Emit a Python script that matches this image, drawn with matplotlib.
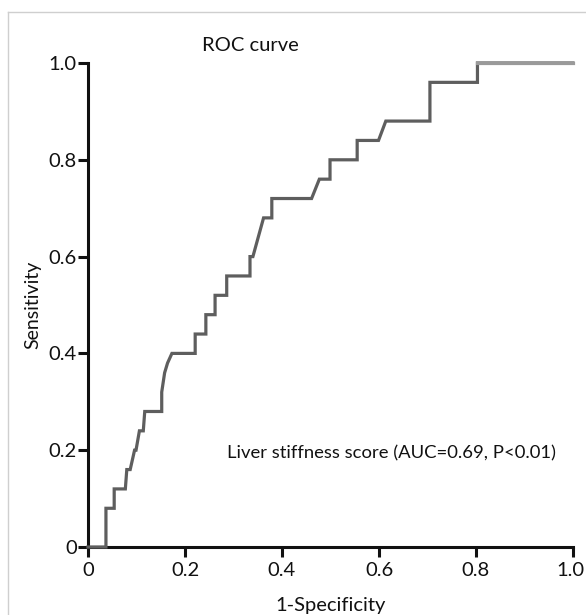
import matplotlib
matplotlib.use("Agg")
import matplotlib.pyplot as plt
from matplotlib.lines import Line2D
from matplotlib.transforms import ScaledTranslation

# ROC curve points (1-Specificity, Sensitivity)
fpr = [0.0, 0.037, 0.037, 0.054, 0.054, 0.077, 0.080, 0.087, 0.096, 0.099,
       0.106, 0.114, 0.117, 0.152, 0.152, 0.158, 0.164, 0.173, 0.221, 0.221,
       0.243, 0.243, 0.262, 0.262, 0.286, 0.286, 0.334, 0.334, 0.340, 0.351,
       0.362, 0.379, 0.379, 0.461, 0.477, 0.499, 0.499, 0.555, 0.555, 0.599,
       0.614, 0.705, 0.705, 0.803, 0.803, 1.0]
tpr = [0.0, 0.0, 0.08, 0.08, 0.12, 0.12, 0.16, 0.16, 0.20, 0.20,
       0.24, 0.24, 0.28, 0.28, 0.32, 0.36, 0.38, 0.40, 0.40, 0.44,
       0.44, 0.48, 0.48, 0.52, 0.52, 0.56, 0.56, 0.60, 0.60, 0.64,
       0.68, 0.68, 0.72, 0.72, 0.76, 0.76, 0.80, 0.80, 0.84, 0.84,
       0.88, 0.88, 0.96, 0.96, 1.0, 1.0]

x_ticks = [0, 0.2, 0.4, 0.6, 0.8, 1.0]
x_tick_labels = ["0", "0.2", "0.4", "0.6", "0.8", "1.0"]
y_ticks = [0, 0.2, 0.4, 0.6, 0.8, 1.0]
y_tick_labels = ["0", "0.2", "0.4", "0.6", "0.8", "1.0"]

title_text = "ROC curve"
annotation_text = "Liver stiffness score (AUC=0.69, P<0.01)"
x_label = "1-Specificity"
y_label = "Sensitivity"

plt.rcParams['font.family'] = ['Lato', 'DejaVu Sans']

fig = plt.figure(figsize=(5.86, 6.15), dpi=100)
fig.patch.set_facecolor("white")

# light gray frame around the figure (top and left edges visible)
fig.add_artist(Line2D([8/586, 1.0], [1 - 12/615, 1 - 12/615],
                      transform=fig.transFigure, color="#cfcfcf", lw=1.0))
fig.add_artist(Line2D([8/586, 8/586], [1 - 12/615, 0.0],
                      transform=fig.transFigure, color="#cfcfcf", lw=1.0))

ax = fig.add_axes([88/586, 1 - 547/615, (573 - 88)/586, (547 - 63)/615])
ax.set_xlim(0, 1)
ax.set_ylim(0, 1)

ax.plot(fpr, tpr, color="#5e5e5e", lw=2.3, clip_on=False,
        solid_joinstyle="miter", zorder=3)
# final horizontal segment drawn lighter, as in the reference
ax.plot(fpr[-2:], tpr[-2:], color="#9a9a9a", lw=2.3, clip_on=False, zorder=4)

for s in ["top", "right"]:
    ax.spines[s].set_visible(False)
for s in ["left", "bottom"]:
    ax.spines[s].set_linewidth(2.2)
    ax.spines[s].set_color("#111111")

ax.set_xticks(x_ticks)
ax.set_xticklabels(x_tick_labels)
ax.set_yticks(y_ticks)
ax.set_yticklabels(y_tick_labels)
ax.tick_params(axis="both", direction="out", length=7, width=2.2,
               color="#111111", labelsize=14.5, labelcolor="#111111")
ax.tick_params(axis="x", pad=4)
ax.tick_params(axis="y", pad=1)

# keep the last x tick label inside the canvas
last = ax.get_xticklabels()[-1]
last.set_transform(last.get_transform() +
                   ScaledTranslation(-3/100, 0, fig.dpi_scale_trans))

ax.set_xlabel(x_label, fontsize=14.5, color="#111111")
ax.xaxis.set_label_coords(0.5, -0.12)
ax.xaxis.label.set_verticalalignment("center")
ax.set_ylabel(y_label, fontsize=14, color="#111111")
ax.yaxis.set_label_coords(-0.113, 0.5)
ax.yaxis.label.set_verticalalignment("center")

ax.text(0.334, 1.037, title_text, transform=ax.transData, ha="center",
        va="center", fontsize=14.5, color="#111111", clip_on=False)
ax.text(0.287, 0.194, annotation_text, transform=ax.transData, ha="left",
        va="center", fontsize=13.3, color="#111111")

fig.savefig("out.png", dpi=100, facecolor="white")
